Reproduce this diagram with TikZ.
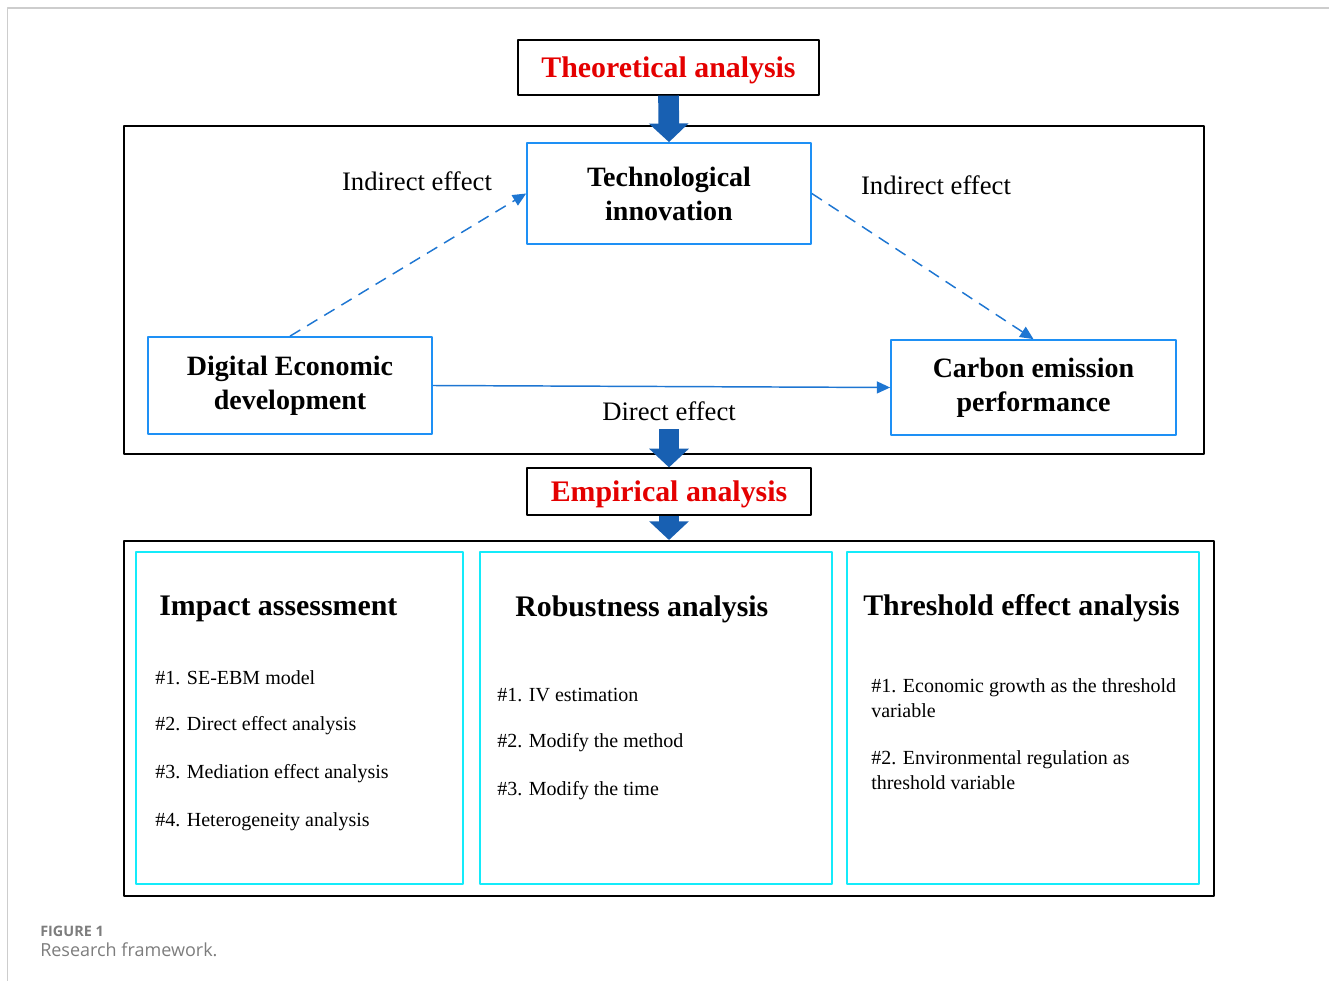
\documentclass[tikz,border=0pt]{standalone}
\usepackage{fontspec}
\setmainfont{Liberation Serif}
\newfontfamily\capfont{Open Sans}
\usepackage{xcolor}
\usetikzlibrary{arrows.meta}
\definecolor{boxblue}{RGB}{30,144,245}
\definecolor{linkblue}{RGB}{30,118,210}
\definecolor{bigarrow}{RGB}{24,96,178}
\definecolor{boxcyan}{RGB}{20,235,250}
\definecolor{titlered}{RGB}{228,0,0}
\definecolor{pagegray}{RGB}{205,205,205}
\definecolor{capgray}{RGB}{125,125,125}
\tikzset{
  every picture/.style={line join=round, >=Stealth},
  bigframe/.style={draw=black, line width=1.9pt},
  titlebox/.style={draw=black, line width=0.9pt, inner sep=0pt, text depth=0pt, text=titlered, font=\fontsize{22.4}{26}\selectfont\bfseries},
  factor/.style={draw=boxblue, line width=1.3pt, inner sep=0pt, minimum width=213pt, align=center, font=\fontsize{21}{25.5}\selectfont\bfseries},
  partbox/.style={draw=boxcyan, line width=1pt, minimum width=264pt, minimum height=249pt},
  effect/.style={inner sep=0pt, font=\fontsize{20}{24}\selectfont},
  linkarrow/.style={draw=linkblue, line width=1.1pt, -{Triangle[length=10pt,width=9pt]}},
  indirect/.style={linkarrow, dash pattern=on 9pt off 6pt},
  blockarrow/.style={draw=bigarrow, line width=15.5pt, -{Triangle[length=14pt,width=29pt]}},
  heading/.style={anchor=west, inner sep=0pt, text depth=0pt, font=\fontsize{22.4}{26}\selectfont\bfseries},
  item/.style={anchor=west, inner sep=0pt, align=left, font=\fontsize{15}{18.75}\selectfont},
}

\begin{document}
\begin{tikzpicture}[x=0.75pt,y=-0.75pt]
\useasboundingbox (0,0) rectangle (1329,981);
\draw[pagegray, line width=1.1pt] (7.5,981) -- (7.5,8) -- (1329,8);

\draw[bigframe] (124,126) rectangle (1204,454);
\draw[bigframe] (124,541) rectangle (1214,896);

\node[titlebox, minimum width=225.75pt, minimum height=41.25pt] (theory) at (668.5,67.5) {Theoretical analysis};
\node[titlebox, minimum width=213pt, minimum height=35.25pt] (empirical) at (669,491.5) {Empirical analysis};

\node[factor, minimum height=75.75pt] (tech) at (669,193.5) {Technological\\innovation};
\node[factor, minimum height=72.75pt] (digital) at (290,385.5) {Digital Economic\\development};
\node[factor, minimum width=213.75pt, minimum height=71.25pt] (carbon) at (1033.5,387.5) {Carbon emission\\performance};

\node[effect] (leftind) at (417,181) {Indirect effect};
\node[effect] (rightind) at (936,185) {Indirect effect};
\node[effect] (direct) at (669,411) {Direct effect};

\draw[indirect] (digital.north) -- (tech.west);
\draw[indirect] (tech.east) -- (carbon.north);
\draw[linkarrow] (digital.east) -- (carbon.west);

\coordinate (drop) at (669,429);
\coordinate (emtop) at (669,540);
\draw[blockarrow] (theory.south) -- (tech.north);
\draw[blockarrow] (drop) -- (empirical.north);
\draw[blockarrow] (empirical.south) -- (emtop);

\node[partbox, minimum width=245.25pt] (impbox) at (299.5,718) {};
\node[partbox] (robbox) at (656,718) {};
\node[partbox] (thrbox) at (1023,718) {};

\node[heading] (imphead) at (159,606) {Impact assessment};
\node[heading] (robhead) at (515,606) {Robustness analysis};
\node[heading] (thrhead) at (863,605) {Threshold effect analysis};

\foreach \i/\t in {1/{SE-EBM model},2/{Direct effect analysis},3/{Mediation effect analysis},4/{Heterogeneity analysis}}
  \node[item] (imp\i) at (155,630+48*\i) {\#\i. \t};
\foreach \i/\t in {1/{IV estimation},2/{Modify the method},3/{Modify the time}}
  \node[item] (rob\i) at (497,647+48*\i) {\#\i. \t};
\node[item] (thr1) at (871,698) {\#1. Economic growth as the threshold\\variable};
\node[item] (thr2) at (871,770.5) {\#2. Environmental regulation as\\threshold variable};

\node[anchor=west, inner sep=0pt, text=capgray, font=\capfont\bfseries\fontsize{10.8}{13}\selectfont] (fignum) at (40,931) {FIGURE 1};
\node[anchor=west, inner sep=0pt, text=capgray, font=\capfont\fontsize{13.5}{16}\selectfont] (figcap) at (40,950) {Research framework.};
\end{tikzpicture}
\end{document}
